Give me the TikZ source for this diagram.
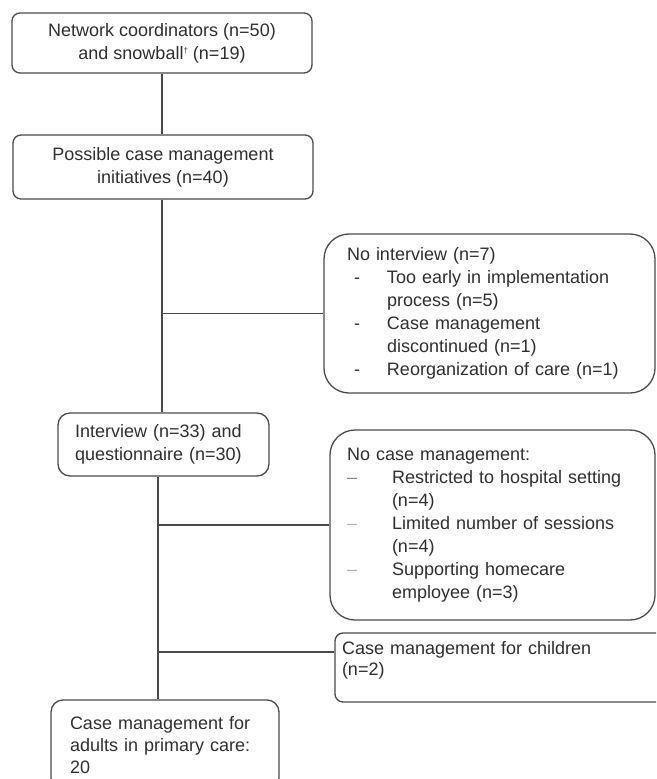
\documentclass[tikz,border=0pt]{standalone}
\usepackage{fontspec}
\setmainfont{Liberation Sans}
\definecolor{linec}{HTML}{4A4A4A}
\definecolor{textc}{HTML}{2E2E2E}
\begin{document}
\begin{tikzpicture}[x=1pt,y=-1pt,
  box/.style={draw=linec, line width=1.3pt, text=textc, inner ysep=0pt,
    font=\fontsize{18}{23}\selectfont},
  conn/.style={draw=linec, line width=1.3pt}]
\useasboundingbox (0,0) rectangle (656,779);
\begin{scope}
\clip (0,0) rectangle (656,779);
\node[box, rounded corners=8pt, minimum width=300pt, minimum height=60pt, align=center] (n1) at (162,43)
  {Network coordinators (n=50)\\and snowball\raisebox{6pt}{\fontsize{8}{8}\selectfont †} (n=19)};
\node[box, rounded corners=8pt, minimum width=300pt, minimum height=64pt, align=center] (n2) at (163,167)
  {Possible case management\\initiatives (n=40)};
\node[box, rounded corners=25pt, minimum width=331pt, minimum height=159pt, inner xsep=23pt, text width=285pt, align=left] (n3) at (489.5,313.5)
  {No interview (n=7)\\
   \makebox[40pt][l]{\hspace*{7pt}-}Too early in implementation\\
   \hspace*{40pt}process (n=5)\\
   \makebox[40pt][l]{\hspace*{7pt}-}Case management\\
   \hspace*{40pt}discontinued (n=1)\\
   \makebox[40pt][l]{\hspace*{7pt}-}Reorganization of care (n=1)};
\node[box, rounded corners=12pt, minimum width=211pt, minimum height=63pt, inner xsep=17pt, text width=177pt, align=left] (n4) at (163.5,444.5)
  {Interview (n=33) and\\questionnaire (n=30)};
\node[box, rounded corners=25pt, minimum width=325pt, minimum height=190pt, inner xsep=17pt, text width=291pt, align=left] (n5) at (492.5,525)
  {No case management:\\
   \makebox[45pt][l]{\color{gray}–}Restricted to hospital setting\\
   \hspace*{45pt}(n=4)\\
   \makebox[45pt][l]{\color{gray!60}–}Limited number of sessions\\
   \hspace*{45pt}(n=4)\\
   \makebox[45pt][l]{\color{gray!60}–}Supporting homecare\\
   \hspace*{45pt}employee (n=3)};
\node[box, rounded corners=8pt, minimum width=335pt, minimum height=69pt, inner xsep=7pt, text width=321pt, align=left] (n6) at (502.5,667.5)
  {Case management for children\\[-2pt](n=2)\\[-4pt]\mbox{}};
\node[box, rounded corners=12pt, minimum width=228pt, minimum height=90pt, inner xsep=19pt, text width=190pt, align=left] (n7) at (165,745)
  {Case management for\\[-1pt]adults in primary care:\\[-1pt]20};
\end{scope}
\coordinate (a) at ([xshift=-1pt]n2.south);
\coordinate (b) at ([xshift=-5.5pt]n4.south);
\coordinate (c6) at ([yshift=15.5pt]n6.west);
\draw[conn] (n1.south) -- (n1.south |- n2.north);
\draw[conn] (a) -- (a |- n4.north);
\draw[conn] (a |- n3.west) -- (n3.west);
\draw[conn] (b) -- (b |- n7.north);
\draw[conn] (b |- n5.west) -- (n5.west);
\draw[conn] (b |- c6) -- (c6);
\end{tikzpicture}
\end{document}
